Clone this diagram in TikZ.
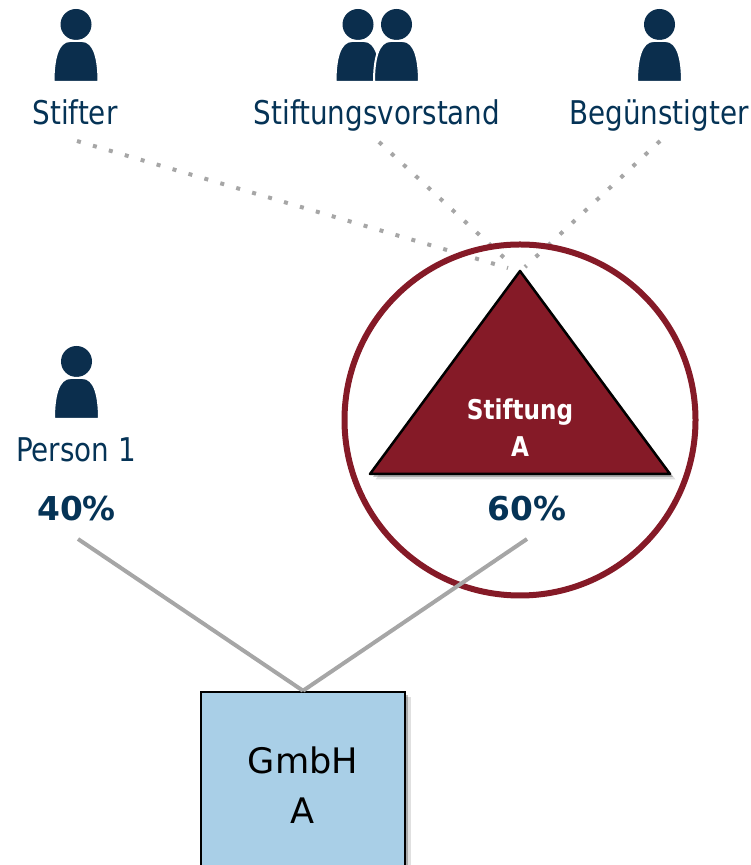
\documentclass[tikz,border=0pt]{standalone}
\usepackage{fontspec}
\usepackage{xcolor}
\setmainfont[FakeStretch=0.85]{DejaVu Sans}
\newfontfamily\widefont{DejaVu Sans}
\usetikzlibrary{shadows}
\definecolor{navy}{HTML}{0B2E4D}
\definecolor{labelblue}{HTML}{053356}
\definecolor{wine}{HTML}{851A27}
\definecolor{linegrey}{HTML}{A6A6A6}
\definecolor{boxblue}{HTML}{A9CFE7}

\begin{document}
\begin{tikzpicture} [
          person/.pic = {
              \fill [navy] (0,1.15) circle (.31);
              \path [fill = navy, draw = white, line width = .04cm] (-.45,0) -- (.45,0)
                  .. controls (.45,.45) and (.37,.82) .. (.12,.82) -- (-.12,.82)
                  .. controls (-.37,.82) and (-.45,.45) .. (-.45,0) -- cycle;
          },
          label/.style = {font = \fontsize{18.6}{20}\selectfont, text = labelblue, anchor = base},
          percent/.style = {font = \widefont\fontsize{18.7}{20}\selectfont\bfseries, text = labelblue, anchor = base},
          dotline/.style = {linegrey, line width = .08cm, dash pattern = on .08cm off .252cm},
          link/.style = {linegrey, line width = .08cm},
          softshadow/.style = {
              drop shadow = {shadow xshift = .11cm, shadow yshift = -.11cm, opacity = .12, fill = black},
              drop shadow = {shadow xshift = .06cm, shadow yshift = -.06cm, opacity = .25, fill = black}
          }
          ]

          \useasboundingbox (0,0) rectangle (15.02,17.3);
          \clip (0,0) rectangle (15.02,17.3);

          % Persons
          \pic at (1.52,15.66) {person};
          \pic at (7.16,15.66) {person};
          \pic at (7.93,15.66) {person};
          \pic at (13.19,15.66) {person};
          \pic at (1.53,8.92) {person};

          % Labels
          \node (stifter) [label] at (1.5,14.8) {Stifter};
          \node (vorstand) [label] at (7.54,14.8) {Stiftungsvorstand};
          \node (beg) [label] at (13.18,14.8) {Begünstigter};
          \node (person) [label] at (1.52,8.06) {Person 1};
          \node (p40) [percent] at (1.53,6.88) {40\%};
          \node (p60) [percent] at (10.54,6.88) {60\%};

          % Free ends
          \coordinate (stifterfrom) at (1.54,14.48);
          \coordinate (vorstandfrom) at (7.58,14.46);
          \coordinate (begfrom) at (13.2,14.48);
          \coordinate (stifterto) at (10.16,11.94);
          \coordinate (vorstandto) at (10.26,11.98);
          \coordinate (begto) at (10.5,11.96);
          \coordinate (p40from) at (1.56,6.52);
          \coordinate (p60from) at (10.54,6.52);
          \coordinate (apex) at (10.4,11.88);
          \coordinate (baseleft) at (7.4,7.82);
          \coordinate (baseright) at (13.4,7.82);

          % Dotted links
          \draw [dotline] (stifterfrom) -- (stifterto);
          \draw [dotline] (vorstandfrom) -- (vorstandto);
          \draw [dotline] (begfrom) -- (begto);

          % Stiftung
          \node (ring) [circle, draw = wine, line width = .12cm, minimum size = 7.02cm] at (10.4,8.9) {};
          \draw [fill = wine, line width = .05cm, line join = round, softshadow] (apex) -- (baseright) -- (baseleft) -- cycle;
          \node (stiftung) [align = center, text = white, font = \fontsize{15.5}{21}\selectfont\bfseries] at (10.4,8.74) {Stiftung\\A};

          % GmbH
          \node (gmbh) [draw = black, fill = boxblue, line width = .05cm, minimum width = 4.08cm, minimum height = 3.72cm, align = center, font = \widefont\fontsize{20}{28.4}\selectfont, softshadow] at (6.06,1.6) {GmbH\\A};

          % Links
          \draw [link] (p40from) -- (gmbh.north);
          \draw [link] (p60from) -- (gmbh.north);

        \end{tikzpicture}
\end{document}
